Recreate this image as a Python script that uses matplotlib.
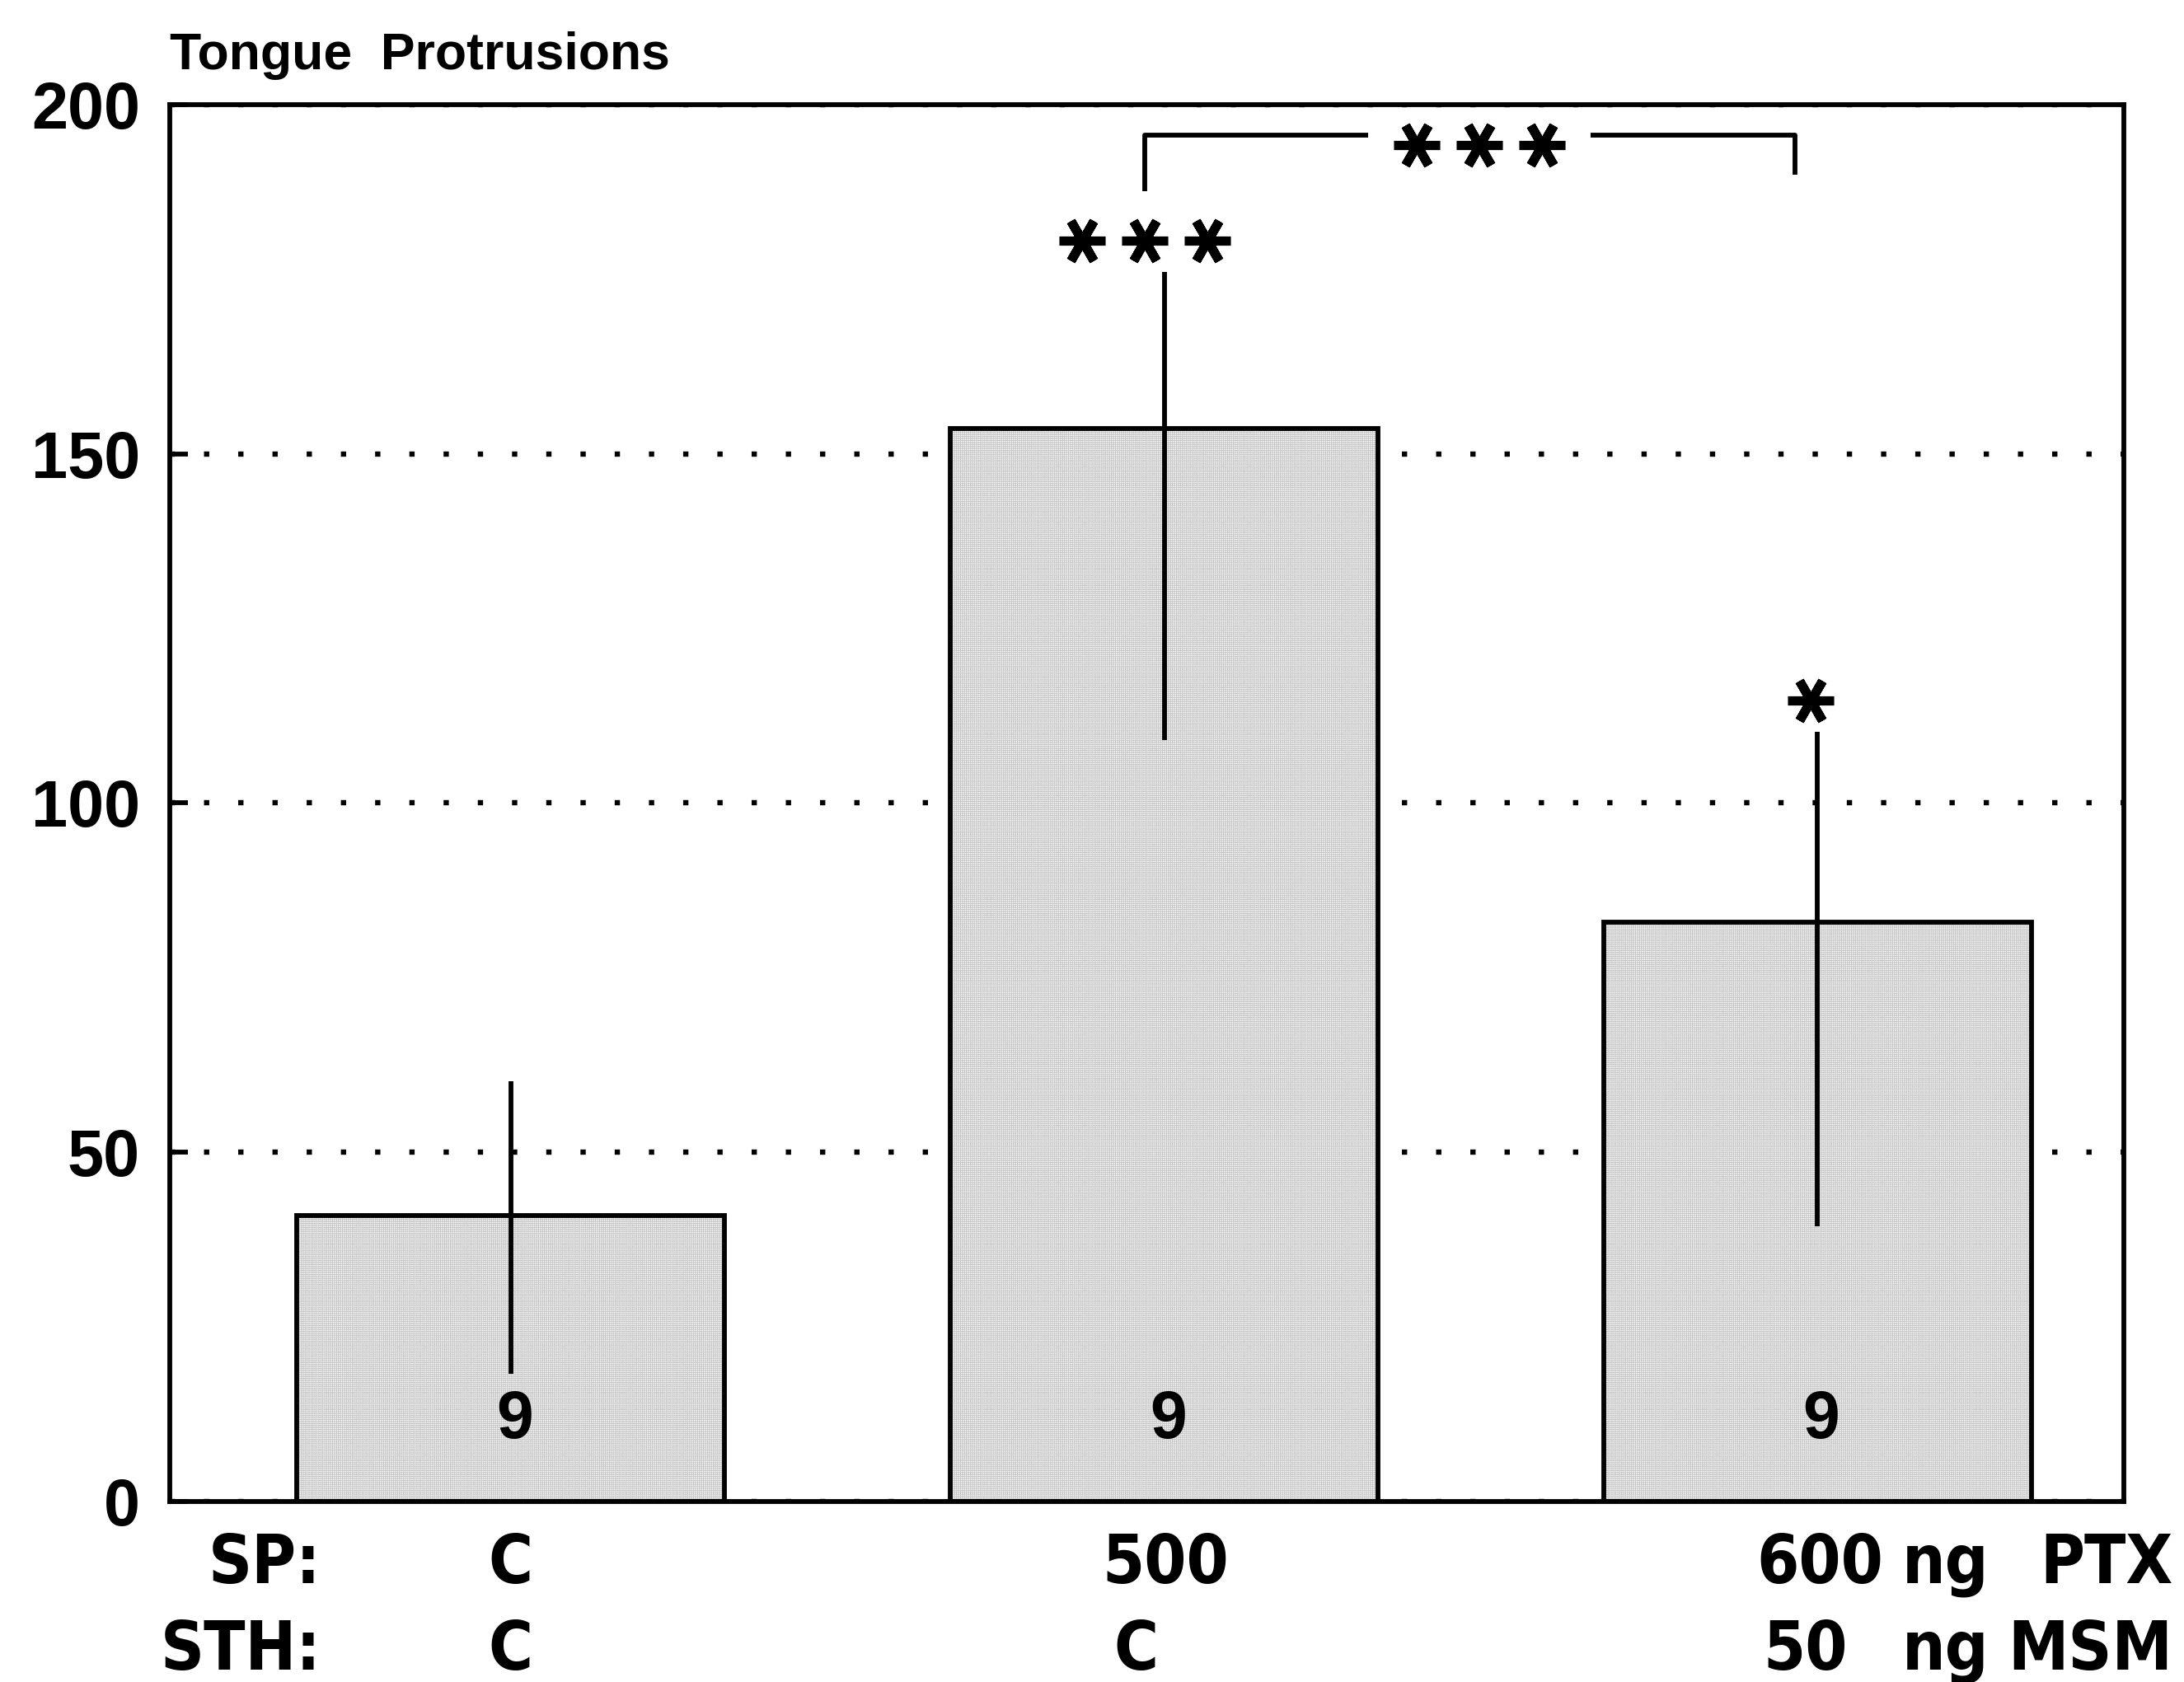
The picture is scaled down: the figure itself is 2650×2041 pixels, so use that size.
import matplotlib
matplotlib.use('Agg')
import matplotlib.pyplot as plt
import matplotlib.transforms as mtransforms
import numpy as np

# === DATA ===
groups = [0, 1, 2]
means = [41.0, 153.6, 83.0]
err_top = [60.2, 176.0, 110.2]
err_bottom = [18.3, 109.0, 39.4]
n_animals = ['9', '9', '9']
sig_labels = ['', '***', '*']
sp_labels = ['C', '500', '600']
sth_labels = ['C', 'C', '50']
yticks = [0, 50, 100, 150, 200]
bracket_pair = (1, 2)
bracket_label = '***'

# === STYLE ===
NUM_FONT = ['Liberation Sans', 'DejaVu Sans']
LAB_FONT = ['DejaVu Sans']
LW = 4.2
BAR_W = 0.655
STAR_STEP = 0.096
plt.rcParams['hatch.linewidth'] = 0.6

fig = plt.figure(figsize=(26.5, 20.41), dpi=100)
ax = fig.add_axes([0.0777, 0.1073, 0.9725 - 0.0777, 0.9378 - 0.1073])

# stippled fill, then black outline on top
ax.bar(groups, means, width=BAR_W, color='white', edgecolor='#c2c2c2',
       hatch='+' * 7, linewidth=0, zorder=2)
ax.bar(groups, means, width=BAR_W, fill=False, edgecolor='black',
       linewidth=LW, zorder=3)

# error lines (plain vertical strokes, no caps)
ax.vlines(groups, err_bottom, err_top, colors='black', linewidth=LW, zorder=4)

ax.set_xlim(-0.522, 2.469)
ax.set_ylim(0, 200)
ax.set_yticks(yticks)
ax.set_xticks(groups)
ax.set_xticklabels([])
ax.yaxis.grid(True, linestyle=(0, (1, 5.5)), linewidth=4.6, color='black')
ax.set_axisbelow(True)

for s in ax.spines.values():
    s.set_linewidth(LW)
ax.tick_params(axis='x', direction='in', length=28, width=LW)
ax.tick_params(axis='y', direction='in', length=16, width=LW, pad=26)
for lab in ax.get_yticklabels():
    lab.set_fontfamily(NUM_FONT)
    lab.set_fontweight('bold')
    lab.set_fontsize(57)


def stars(xc, y, k):
    xs = xc + (np.arange(k) - (k - 1) / 2) * STAR_STEP
    ax.plot(xs, [y] * k, ls='none', marker=(6, 2, 90), ms=40, mew=8,
            color='black', zorder=5, clip_on=False)


# significance vs control
for x, top, lab in zip(groups, err_top, sig_labels):
    if lab:
        stars(x - 0.03 if len(lab) > 1 else x - 0.01, top + 4.5, len(lab))

# bracket between groups 2 and 3
bx0, bx1 = bracket_pair[0] - 0.03, bracket_pair[1] - 0.035
by = 195.6
bmid = (bx0 + bx1) / 2 + 0.015
gap = 0.17
ax.plot([bx0, bx0, bmid - gap], [187.6, by, by], color='black',
        linewidth=LW, zorder=5, solid_capstyle='butt')
ax.plot([bmid + gap, bx1, bx1], [by, by, 190.0], color='black',
        linewidth=LW, zorder=5, solid_capstyle='butt')
stars(bmid, 194.2, len(bracket_label))

# n per group
for x, n in zip(groups, n_animals):
    ax.text(x + 0.006, 11.6, n, ha='center', va='center', fontsize=58,
            fontweight='bold', family=NUM_FONT, zorder=6)

# y-axis title
fig.text(0.0777, 0.9586, 'Tongue  Protrusions', ha='left', va='baseline',
         fontsize=45, fontweight='bold', family=NUM_FONT)

# treatment rows under the axis
row_y = [0.070, 0.0186]
lab_kw = dict(fontsize=59, fontweight='bold', family=LAB_FONT,
              fontstretch='condensed', va='center')
tr = mtransforms.blended_transform_factory(ax.transData, fig.transFigure)
ax.text(-0.29, row_y[0], 'SP:', ha='right', transform=tr, **lab_kw)
ax.text(-0.29, row_y[1], 'STH:', ha='right', transform=tr, **lab_kw)
sp_x = [0.0, 1.002, 2.004]
sth_x = [0.0, 0.957, 1.981]
for x, t in zip(sp_x, sp_labels):
    ax.text(x, row_y[0], t, ha='center', transform=tr, **lab_kw)
for x, t in zip(sth_x, sth_labels):
    ax.text(x, row_y[1], t, ha='center', transform=tr, **lab_kw)
ax.text(2.196, row_y[0], 'ng', ha='center', transform=tr, **lab_kw)
ax.text(2.196, row_y[1], 'ng', ha='center', transform=tr, **lab_kw)
ax.text(2.544, row_y[0], 'PTX', ha='right', transform=tr, **lab_kw)
ax.text(2.544, row_y[1], 'MSM', ha='right', transform=tr, **lab_kw)

fig.savefig('out.png', dpi=100, facecolor='white')
